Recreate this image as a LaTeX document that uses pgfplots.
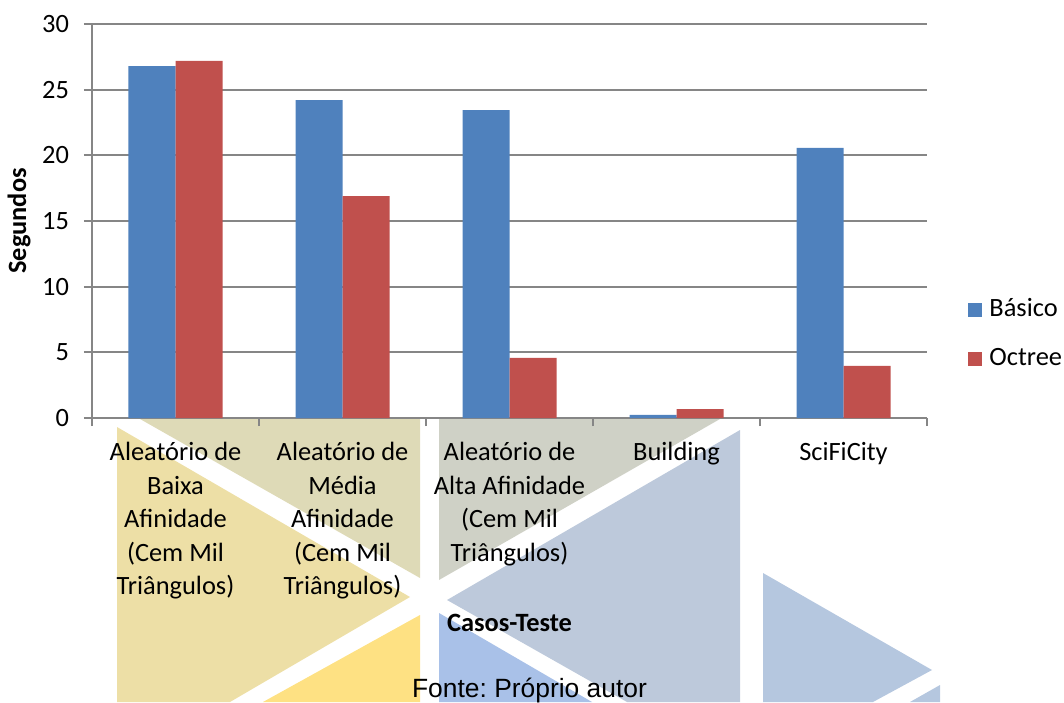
\documentclass[border=0pt]{standalone}
\usepackage{fontspec}
\setmainfont{Carlito}
\newfontfamily\arialfont{Liberation Sans}
\usepackage{pgfplots}
\pgfplotsset{compat=1.18}
\definecolor{cBlue}{HTML}{4F81BD}
\definecolor{cRed}{HTML}{C0504D}
\definecolor{cGrid}{HTML}{868686}
\definecolor{bgTan}{HTML}{DEDAB7}
\definecolor{bgYel}{HTML}{EDDFA6}
\definecolor{bgBright}{HTML}{FEE183}
\definecolor{bgGray}{HTML}{CFD1C6}
\definecolor{bgBlueGray}{HTML}{BDC9DB}
\definecolor{bgLightBlue}{HTML}{A9C1E8}
\definecolor{bgRight}{HTML}{B5C7DF}
\newcommand{\cf}{\fontsize{13.2}{16.8}\selectfont}
\frenchspacing
\begin{document}
\begin{tikzpicture}
\path[use as bounding box] (0,0) rectangle (532pt,351pt);
\begin{scope}[yshift=351pt,x=0.5pt,y=-0.5pt]
\fill[bgTan] (140,419) -- (420,419) -- (420,578) -- cycle;
\fill[bgYel] (117,427) -- (410,597) -- (230,702) -- (117,702) -- cycle;
\fill[bgBright] (263,702) -- (420,615) -- (420,702) -- cycle;
\fill[bgGray] (439,419) -- (720,419) -- (439,580) -- cycle;
\fill[bgBlueGray] (447,600) -- (740,430) -- (740,702) -- (627,702) -- cycle;
\fill[bgLightBlue] (439,613) -- (592,702) -- (439,702) -- cycle;
\fill[bgRight] (763,573) -- (932,670) -- (873,702) -- (763,702) -- cycle;
\fill[bgRight] (940,685) -- (940,702) -- (910,702) -- cycle;
\end{scope}
\begin{axis}[
  at={(46pt,142pt)}, anchor=south west,
  scale only axis, width=417.5pt, height=197pt,
  xmin=-0.5, xmax=4.5, ymin=0, ymax=30,
  ytick={0,5,...,30},
  ybar=0pt, bar width=23.5pt,
  axis x line*=bottom, axis y line*=left,
  axis line style={cGrid, line width=1pt},
  ymajorgrids, grid style={cGrid, line width=1pt},
  tick style={cGrid, line width=1pt},
  tick align=outside, major tick length=4pt,
  xtick={-0.5,0.5,...,4.5}, xticklabels={},
  extra x ticks={0,1,2,3,4},
  extra x tick labels={{Aleatório de\\Baixa\\Afinidade\\(Cem Mil\\Triângulos)},{Aleatório de\\Média\\Afinidade\\(Cem Mil\\Triângulos)},{Aleatório de\\Alta Afinidade\\(Cem Mil\\Triângulos)},{Building},{SciFiCity}},
  extra x tick style={major tick length=0pt, grid=none},
  x tick label style={font=\cf, align=center, anchor=north, yshift=-8.5pt},
  y tick label style={font=\cf, xshift=-4pt},
  /pgf/number format/assume math mode=true,
  xlabel={Casos-Teste}, ylabel={Segundos},
  xlabel style={font=\cf\bfseries, at={(axis description cs:0.5,-0.543)}, anchor=base},
  ylabel style={font=\cf\bfseries, at={(axis description cs:-0.0874,0.5)}, anchor=center},
  legend style={at={(axis description cs:1.042,0.211)}, anchor=west, draw=none, fill=none, font=\cf, row sep=8.5pt, nodes={inner sep=2pt, text height=9pt, text depth=3pt}},
  legend cell align=left,
]
\addplot[fill=cBlue, draw=none, legend image code/.code={\fill[cBlue] (0pt,-3.5pt) rectangle (7pt,3.5pt); \path (8.5pt,0pt);}] coordinates {(0,26.8) (1,24.2) (2,23.45) (3,0.23) (4,20.56)};
\addplot[fill=cRed, draw=none, legend image code/.code={\fill[cRed] (0pt,-3.5pt) rectangle (7pt,3.5pt); \path (8.5pt,0pt);}] coordinates {(0,27.2) (1,16.9) (2,4.57) (3,0.68) (4,3.96)};
\legend{Básico,Octree}
\end{axis}
\node[font=\arialfont\fontsize{13.2}{16}\selectfont, anchor=base, inner sep=0pt] at (264.75pt,2.5pt) {Fonte: Próprio autor};
\end{tikzpicture}
\end{document}
